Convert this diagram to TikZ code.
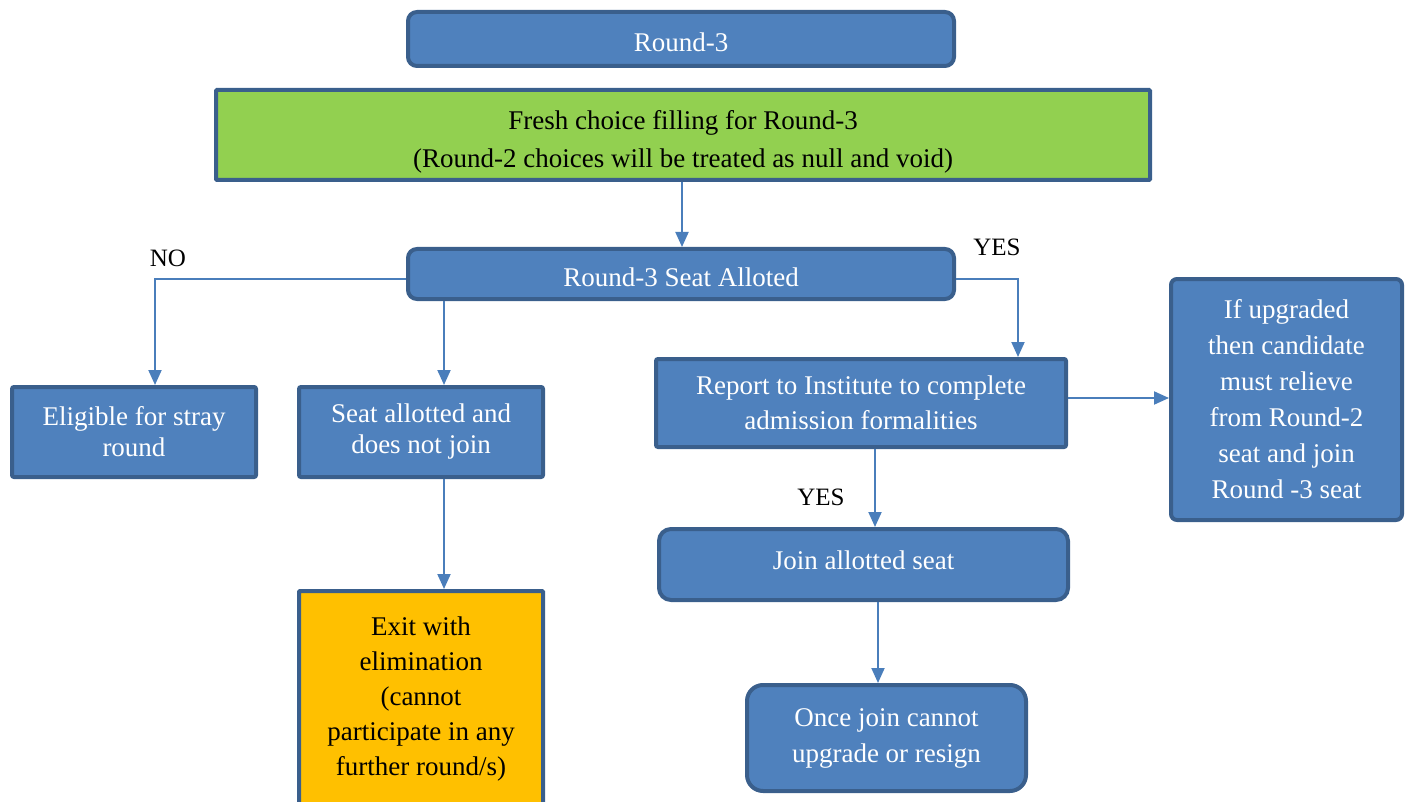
\documentclass[tikz,border=0pt]{standalone}
\usepackage{fontspec}
\setmainfont{Liberation Serif}
\usetikzlibrary{arrows.meta}
\definecolor{bfill}{HTML}{4F81BD}
\definecolor{bdraw}{HTML}{3A5F8C}
\definecolor{gfill}{HTML}{92D050}
\definecolor{ofill}{HTML}{FFC000}
\definecolor{aline}{HTML}{4A7EBB}
\begin{document}
\begin{tikzpicture}[x=1pt,y=-1pt,
  box/.style={draw=bdraw, line width=4pt, fill=bfill, text=white, align=center, inner sep=0pt, font=\fontsize{27}{34}\selectfont},
  conn/.style={draw=aline, line width=2pt, -{Triangle[width=13pt,length=15pt]}},
  lbl/.style={font=\fontsize{25}{28}\selectfont, text=black, inner sep=0pt}]
\useasboundingbox (0,0) rectangle (1410,802);
\clip (0,0) rectangle (1410,802);

\node[box, rounded corners=9pt, minimum width=546pt, minimum height=54pt] (r3) at (681,39) {\raisebox{-13pt}[0pt][0pt]{Round-3}};
\node[box, fill=gfill, text=black, rounded corners=1pt, minimum width=934pt, minimum height=90pt, font=\fontsize{27}{38}\selectfont] (fresh) at (683,135) {\rule{0pt}{33pt}Fresh choice filling for Round-3\\(Round-2 choices will be treated as null and void)};
\node[box, rounded corners=9pt, minimum width=546pt, minimum height=50pt] (seat) at (681,274) {\raisebox{-13pt}[0pt][0pt]{Round-3 Seat Alloted}};
\node[box, rounded corners=2pt, minimum width=244pt, minimum height=90pt, font=\fontsize{27}{31}\selectfont] (elig) at (134,432) {Eligible for stray\\round};
\node[box, rounded corners=2pt, minimum width=244pt, minimum height=90pt, font=\fontsize{27}{31}\selectfont] (sajn) at (421,432) {Seat allotted and\\does not join};
\node[box, fill=ofill, text=black, rounded corners=1pt, minimum width=244pt, minimum height=216pt, font=\fontsize{27}{35}\selectfont] (exit) at (421,699) {Exit with\\elimination\\(cannot\\participate in any\\further round/s)};
\node[box, rounded corners=2pt, minimum width=410pt, minimum height=88pt, font=\fontsize{27}{35}\selectfont] (report) at (861,403) {Report to Institute to complete\\admission formalities};
\node[box, rounded corners=6pt, minimum width=231pt, minimum height=241pt, font=\fontsize{27}{36}\selectfont] (upg) at (1286.5,399.5) {If upgraded\\then candidate\\must relieve\\from Round-2\\seat and join\\Round -3 seat};
\node[box, rounded corners=12pt, minimum width=409pt, minimum height=71pt] (join) at (863.5,564.5) {\raisebox{-4.5pt}[0pt][0pt]{Join allotted seat}};
\node[box, rounded corners=16pt, minimum width=279pt, minimum height=106pt, font=\fontsize{27}{36}\selectfont] (once) at (886.5,738) {Once join cannot\\upgrade or resign};

\node[lbl] (no) at (168,258) {NO};
\node[lbl] (yes1) at (997,247) {YES};
\node[lbl] (yes2) at (821,497) {YES};

\coordinate (ftop) at ([xshift=-1pt]fresh.south);
\draw[conn] (ftop) -- (ftop |- seat.north);
\coordinate (sl) at ([yshift=-5pt]seat.west);
\coordinate (et) at ([xshift=21pt]elig.north);
\draw[conn] (sl) -| (et);
\coordinate (sjt) at ([xshift=23pt]sajn.north);
\draw[conn] (sjt |- seat.south) -- (sjt);
\coordinate (sr) at ([yshift=-5pt]seat.east);
\coordinate (rt) at ([xshift=157pt]report.north);
\draw[conn] (sr) -| (rt);
\coordinate (re) at ([yshift=5pt]report.east);
\draw[conn] (re) -- (re -| upg.west);
\coordinate (sjb) at ([xshift=23pt]sajn.south);
\draw[conn] (sjb) -- (sjb |- exit.north);
\coordinate (rb) at ([xshift=14pt]report.south);
\draw[conn] (rb) -- (rb |- join.north);
\coordinate (jb) at ([xshift=14.5pt]join.south);
\draw[conn] (jb) -- (jb |- once.north);
\end{tikzpicture}
\end{document}
